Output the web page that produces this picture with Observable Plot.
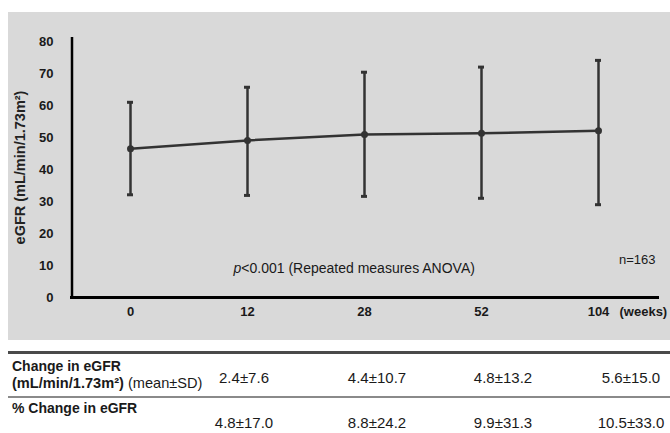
<!DOCTYPE html>
<html>
<head>
<meta charset="utf-8">
<script src="https://cdn.jsdelivr.net/npm/d3@7"></script>
<script src="https://cdn.jsdelivr.net/npm/@observablehq/plot@0.6"></script>
<style>
  html, body { margin: 0; padding: 0; background: #fff; }
  #wrap { position: relative; width: 670px; height: 433px; overflow: hidden; background: #fff;
          font-family: "Liberation Sans", Arial, sans-serif; color: #1a1a1a; }
  #chart { position: absolute; left: 8px; top: 12px; }
  .t { position: absolute; white-space: nowrap; line-height: 1; }
  .hl { position: absolute; left: 8px; right: 0; }
</style>
</head>
<body>
<div id="wrap"><div id="chart"></div></div>
<script>
// ---- data ----
const weeks = ["0", "12", "28", "52", "104"];
const egfrMean  = [46.5, 49.1, 50.9, 51.3, 52.1];
const egfrUpper = [61.0, 65.7, 70.4, 72.0, 74.1];
const egfrLower = [32.1, 31.9, 31.6, 31.0, 29.0];
const yTicks = [0, 10, 20, 30, 40, 50, 60, 70, 80];
const yLabel = "eGFR (mL/min/1.73m²)";
const xUnit = "(weeks)";
const pLabelItalic = "p";
const pLabelRest = "<0.001 (Repeated measures ANOVA)";
const nLabel = "n=163";
const rowLabel1a = "Change in eGFR";
const rowLabel1b = "(mL/min/1.73m²)";
const rowLabel1c = " (mean±SD)";
const rowLabel2 = "% Change in eGFR";
const changeEgfr = ["2.4±7.6", "4.4±10.7", "4.8±13.2", "5.6±15.0"];
const pctChange  = ["4.8±17.0", "8.8±24.2", "9.9±31.3", "10.5±33.0"];

const rows = weeks.map((w, i) => ({week: w, mean: egfrMean[i], hi: egfrUpper[i], lo: egfrLower[i]}));
const ink = "#333";

const chart = Plot.plot({
  width: 662, height: 328,
  marginLeft: 62, marginRight: 11, marginTop: 25, marginBottom: 43,
  style: {background: "#d9d9d9", fontFamily: "'Liberation Sans', Arial, sans-serif", color: "#1a1a1a", overflow: "visible"},
  x: {type: "point", domain: weeks, range: [120, 591], padding: 0},
  y: {domain: [0, 81.25]},
  marks: [
    Plot.axisX({tickSize: 0, tickPadding: 9, fontSize: 13, fontWeight: "bold", label: null}),
    Plot.axisY({ticks: yTicks, tickSize: 0, tickPadding: 17, fontSize: 13, fontWeight: "bold", label: null}),
    Plot.ruleY([0], {stroke: "#000", strokeWidth: 3}),
    Plot.ruleX([weeks[0]], {y1: 0, y2: 81.25, dx: -58.5, stroke: "#000", strokeWidth: 2.5}),
    Plot.ruleX(rows, {x: "week", y1: "lo", y2: "hi", stroke: ink, strokeWidth: 2.5}),
    Plot.ruleY(rows, {y: "hi", x1: "week", x2: "week", insetLeft: -3, insetRight: -3, stroke: ink, strokeWidth: 3}),
    Plot.ruleY(rows, {y: "lo", x1: "week", x2: "week", insetLeft: -3, insetRight: -3, stroke: ink, strokeWidth: 3}),
    Plot.line(rows, {x: "week", y: "mean", stroke: ink, strokeWidth: 2.5}),
    Plot.dot(rows, {x: "week", y: "mean", r: 3.5, fill: ink}),
    Plot.text([yLabel], {frameAnchor: "left", textAnchor: "middle", rotate: -90, dx: -50, fontSize: 14.5, fontWeight: "bold", fill: "#222", text: d => d}),
    Plot.text([pLabelItalic], {x: () => weeks[1], y: () => 9, dx: -14, textAnchor: "start", fontSize: 14, fontStyle: "italic", fill: "#1a1a1a", text: d => d}),
    Plot.text([pLabelRest], {x: () => weeks[1], y: () => 9, dx: -6.2, textAnchor: "start", fontSize: 14, fill: "#1a1a1a", text: d => d}),
    Plot.text([nLabel], {x: () => weeks[4], y: () => 11.9, dx: 57, textAnchor: "end", fontSize: 13, fill: "#1a1a1a", text: d => d}),
    Plot.text([xUnit], {x: () => weeks[4], y: () => 0, dx: 21, dy: 14, textAnchor: "start", fontSize: 13, fontWeight: "bold", fill: "#1a1a1a", text: d => d})
  ]
});
document.getElementById("chart").appendChild(chart);

// ---- table below the chart ----
const wrap = document.getElementById("wrap");
function line(top, h, color) {
  const d = document.createElement("div");
  d.className = "hl";
  d.style.top = top + "px"; d.style.height = h + "px"; d.style.background = color;
  wrap.appendChild(d);
}
function text(html, x, y, opts = {}) {
  const s = document.createElement("span");
  s.className = "t";
  s.innerHTML = html;
  s.style.left = x + "px"; s.style.top = y + "px";
  s.style.fontSize = (opts.size || 14) + "px";
  s.style.fontWeight = opts.bold ? "bold" : "normal";
  s.style.transform = opts.center ? "translate(-50%,-50%)" : "translate(0,-50%)";
  wrap.appendChild(s);
}
line(351, 3, "#4a4a4a");
line(396, 2, "#8a8a8a");
const colX = [244, 377, 503, 631];
text(rowLabel1a, 12, 366, {bold: true});
text("<b>" + rowLabel1b + "</b>" + rowLabel1c, 12, 383, {size: 14.6});
text(rowLabel2, 12, 408, {bold: true});
changeEgfr.forEach((v, i) => text(v, colX[i], 377, {center: true, size: 15}));
pctChange.forEach((v, i) => text(v, colX[i], 422, {center: true, size: 15}));
</script>
</body>
</html>
